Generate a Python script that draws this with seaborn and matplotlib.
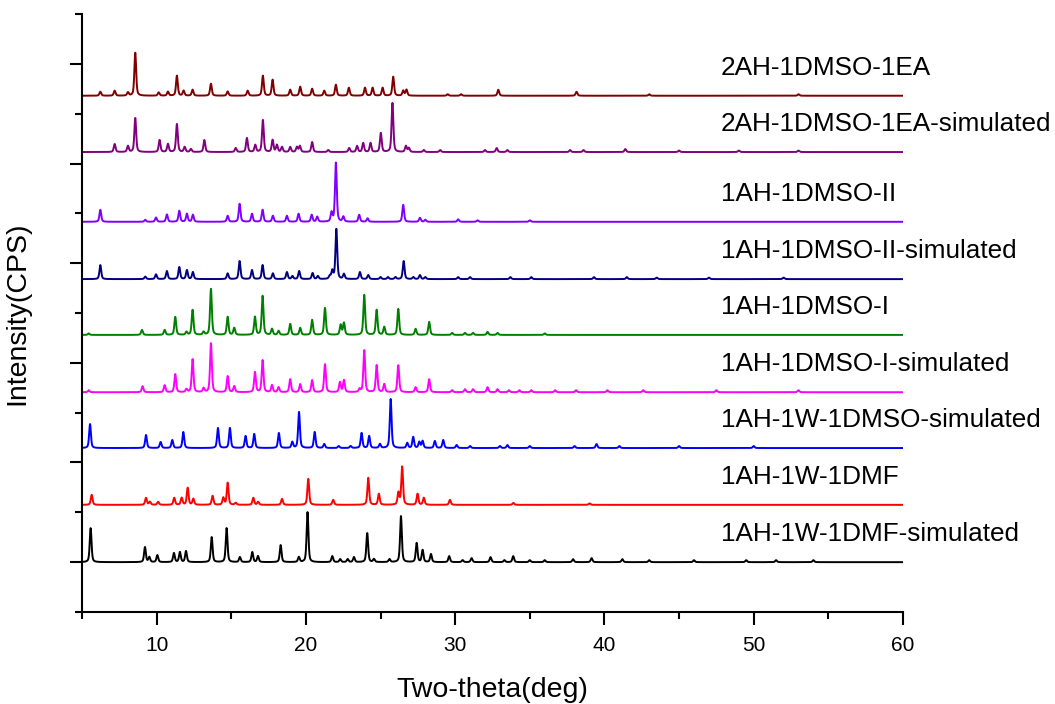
import numpy as np
import pandas as pd
import matplotlib
matplotlib.use("Agg")
import matplotlib.pyplot as plt
from matplotlib.ticker import FixedLocator
import seaborn as sns

# ---------------- data (peak positions in 2-theta, relative peak heights) ----------------
names = ["1AH-1W-1DMF-simulated", "1AH-1W-1DMF", "1AH-1W-1DMSO-simulated",
         "1AH-1DMSO-I-simulated", "1AH-1DMSO-I", "1AH-1DMSO-II-simulated",
         "1AH-1DMSO-II", "2AH-1DMSO-1EA-simulated", "2AH-1DMSO-1EA"]
colors = ["#000000", "#FF0000", "#0000FF", "#FF00FF", "#008000", "#000080",
          "#8000FF", "#800080", "#800000"]
offsets = [1.0, 2.15, 3.29, 4.41, 5.56, 6.68, 7.83, 9.23, 10.36]

dmf_sim_pos = [5.58, 9.22, 9.51, 10.05, 11.16, 11.56, 11.97, 13.69, 14.69, 15.58, 16.41, 16.79,
               18.31, 19.53, 20.11, 21.77, 22.3, 22.8, 23.22, 24.11, 24.56, 25.6, 26.37, 27.42,
               27.82, 28.38, 29.6, 30.5, 31.1, 32.37, 33.3, 33.89, 35.0, 36.0, 37.9, 39.14,
               41.2, 43.0, 46.0, 49.5, 51.5, 54.0]
dmf_sim_int = [34, 15, 5, 7, 9, 10, 11, 25, 34, 5, 10, 6,
               17, 5, 50, 6, 3, 3, 5, 29, 3, 3, 46, 19,
               12, 8, 6, 2, 4, 5, 2, 6, 2, 2, 3, 4,
               3, 2, 2, 2, 2, 2]

dmf_pos = [5.65, 9.29, 9.55, 10.1, 11.18, 11.68, 12.08, 12.46, 13.75, 14.47, 14.76, 15.3,
           16.48, 16.8, 18.4, 20.16, 21.83, 24.18, 24.89, 26.2, 26.45, 27.48, 27.9, 29.65,
           33.9, 39.0]
dmf_int = [10, 7, 3, 3, 7, 7, 17, 6, 9, 7, 22, 2,
           7, 3, 6, 26, 5, 27, 11, 12, 38, 11, 7, 5,
           2, 1.5]

dmso_w_sim_pos = [5.54, 9.29, 10.27, 11.05, 11.79, 14.11, 14.91, 15.96, 16.54, 18.19, 19.09,
                  19.54, 20.59, 21.23, 22.2, 23.0, 23.73, 24.24, 24.96, 25.68, 26.79, 27.19,
                  27.6, 27.82, 28.64, 29.2, 30.1, 31.0, 33.0, 33.5, 35.0, 38.0, 39.47, 41.0,
                  45.0, 50.0]
dmso_w_sim_int = [24, 13, 6, 8, 16, 20, 20, 12, 14, 15, 6,
                  36, 16, 4, 2, 2, 15, 12, 4, 49, 5, 11,
                  6, 7, 7, 8, 3, 2, 2, 3, 2, 2, 4, 2,
                  2, 2]

form1_sim_pos = [5.45, 9.06, 10.54, 11.25, 12.0, 12.41, 13.15, 13.64, 14.76, 15.2, 16.59,
                 17.1, 17.73, 18.17, 18.95, 19.62, 20.42, 21.28, 22.28, 22.55, 23.6, 23.91,
                 24.74, 25.25, 26.19, 27.35, 28.26, 29.8, 30.66, 31.2, 32.17, 32.84, 33.6,
                 34.3, 35.1, 36.7, 38.1, 40.2, 42.6, 47.5, 53.0]
form1_sim_int = [2, 6, 7, 18, 3, 33, 4, 49, 16, 6, 20,
                 32, 7, 5, 13, 8, 12, 28, 10, 12, 3, 42,
                 27, 8, 27, 5, 13, 2, 3, 3, 5, 3, 2,
                 2, 2, 2, 2, 2, 2, 2, 2]

form1_pos = [5.45, 9.02, 10.54, 11.25, 12.0, 12.41, 13.15, 13.64, 14.76, 15.2, 16.59, 17.1,
             17.73, 18.17, 18.95, 19.62, 20.42, 21.28, 22.33, 22.55, 23.91, 24.74, 25.25,
             26.19, 27.35, 28.26, 29.8, 30.66, 31.2, 32.17, 32.84, 36.0]
form1_int = [1.5, 5, 5, 18, 3, 25, 3, 46, 18, 7, 18, 39,
             6, 4, 11, 7, 15, 27, 10, 12, 40, 25, 8,
             26, 6, 13, 2, 2, 2, 3, 2, 1.5]

form2_sim_pos = [6.23, 9.24, 9.96, 10.69, 11.52, 12.03, 12.43, 14.76, 15.56, 16.39, 17.1,
                 17.79, 18.73, 19.1, 19.55, 20.45, 20.8, 21.6, 21.77, 22.04, 22.55, 23.62,
                 24.18, 25.0, 25.5, 26.0, 26.55, 27.2, 27.64, 28.0, 30.2, 31.0, 33.7, 35.1,
                 39.3, 41.5, 43.5, 47.0, 52.0]
form2_sim_int = [14, 2.5, 4.7, 8, 12, 9, 7, 5.7, 18, 9, 14,
                 5.7, 7, 3, 8, 6, 3, 3, 8, 50, 5, 7,
                 4, 2, 2, 2, 18, 2, 4, 2, 2, 2, 2, 2,
                 2, 2, 1.5, 1.5, 1.5]

form2_pos = [6.23, 9.24, 9.96, 10.69, 11.52, 12.03, 12.43, 14.76, 15.56, 16.39, 17.1, 17.79,
             18.73, 19.51, 20.39, 20.76, 21.72, 22.01, 22.51, 23.57, 24.13, 26.52, 27.64,
             28.0, 30.2, 31.5, 35.0]
form2_int = [12, 2, 4.3, 7.3, 11, 8, 7, 6, 18, 8, 12, 6,
             6, 8, 7, 5, 9, 59, 5, 7, 3.5, 17, 4,
             2, 2.5, 1.5, 1.5]

ea_sim_pos = [7.19, 8.08, 8.57, 10.2, 10.76, 11.36, 11.88, 12.3, 13.2, 15.3, 16.05, 16.61,
              17.12, 17.77, 18.06, 18.4, 18.95, 19.4, 19.6, 20.42, 21.5, 22.9, 23.43, 23.84,
              24.33, 25.02, 25.8, 26.7, 26.9, 27.9, 29.0, 32.0, 32.78, 33.5, 37.7, 38.6,
              41.4, 45.0, 49.0, 53.0]
ea_sim_int = [8, 6, 34, 12, 8, 28, 5, 3, 12, 4, 14, 7,
              32, 12, 7, 5, 5, 5, 6, 10, 2, 4, 6, 9,
              9, 19, 49, 6, 4, 2, 2, 2, 4, 2, 2, 2,
              3, 1.5, 1.5, 1.5]

ea_pos = [6.23, 7.19, 8.08, 8.57, 10.14, 10.76, 11.36, 11.81, 12.41, 13.64, 14.76, 16.1,
          17.12, 17.77, 18.95, 19.62, 20.42, 21.23, 22.01, 22.88, 23.96, 24.47, 25.14,
          25.85, 26.52, 26.74, 29.5, 30.4, 32.89, 38.13, 43.0, 53.0]
ea_int = [4, 5, 3.3, 43, 3.3, 4, 20, 5, 6, 12, 4.3, 5,
          20, 16, 6, 9, 7, 5, 11, 8, 8, 8, 8,
          19, 5, 6, 1.5, 1.5, 6, 4, 1.5, 1.5]

peak_positions = [dmf_sim_pos, dmf_pos, dmso_w_sim_pos, form1_sim_pos, form1_pos,
                  form2_sim_pos, form2_pos, ea_sim_pos, ea_pos]
peak_heights = [dmf_sim_int, dmf_int, dmso_w_sim_int, form1_sim_int, form1_int,
                form2_sim_int, form2_int, ea_sim_int, ea_int]

# ---------------- build profiles ----------------
two_theta = np.arange(5.0, 60.0001, 0.01)
HWHM = 0.07
SCALE = 1 / 49.83  # height units -> axis units


def profile(pos, hts):
    y = np.zeros_like(two_theta)
    for p, h in zip(pos, hts):
        d = (two_theta - p) / HWHM
        lor = 1.0 / (1.0 + d ** 2)
        gau = np.exp(-np.log(2) * d ** 2)
        y += h * (0.5 * lor + 0.5 * gau)
    return y


frames = []
for name, pos, hts, off in zip(names, peak_positions, peak_heights, offsets):
    frames.append(pd.DataFrame({"two_theta": two_theta,
                                "intensity": off + profile(pos, hts) * SCALE,
                                "pattern": name}))
df = pd.concat(frames, ignore_index=True)

# ---------------- plot ----------------
sns.set_style("ticks")
plt.rcParams["font.family"] = ["Liberation Sans", "DejaVu Sans"]
plt.rcParams["text.color"] = "black"
plt.rcParams["axes.labelcolor"] = "black"
plt.rcParams["xtick.color"] = "black"
plt.rcParams["ytick.color"] = "black"

fig = plt.figure(figsize=(10.55, 7.04), dpi=100)
ax = fig.add_axes([0.0777, 0.1307, 0.7782, 0.8494])

for name, col in zip(names[::-1], colors[::-1]):
    sub = df[df["pattern"] == name]
    sns.lineplot(data=sub, x="two_theta", y="intensity", color=col, lw=1.4,
                 ax=ax, estimator=None, sort=False)

for name, col, off in zip(names, colors, offsets):
    ax.text(47.8, off + 0.56, name, ha="left", va="center", fontsize=18.8, color="black")

ax.set_xlim(5, 60)
ax.set_ylim(0, 12)
ax.xaxis.set_major_locator(FixedLocator([10, 20, 30, 40, 50, 60]))
ax.xaxis.set_minor_locator(FixedLocator([5, 15, 25, 35, 45, 55]))
ax.yaxis.set_major_locator(FixedLocator([1, 3, 5, 7, 9, 11]))
ax.yaxis.set_minor_locator(FixedLocator([0, 2, 4, 6, 8, 10, 12]))
ax.set_yticklabels([])
ax.tick_params(which="major", direction="out", length=9, width=1.5, labelsize=15,
               colors="black", pad=8)
ax.tick_params(which="minor", direction="out", length=5, width=1.5, colors="black")
for s in ["top", "right"]:
    ax.spines[s].set_visible(False)
for s in ["left", "bottom"]:
    ax.spines[s].set_linewidth(1.5)
    ax.spines[s].set_color("black")

ax.set_xlabel("Two-theta(deg)", fontsize=20.5, labelpad=16, color="black")
ax.set_ylabel("Intensity(CPS)", fontsize=20.5, labelpad=20, color="black")
if ax.legend_:
    ax.legend_.remove()

fig.savefig("out.png", dpi=100)
